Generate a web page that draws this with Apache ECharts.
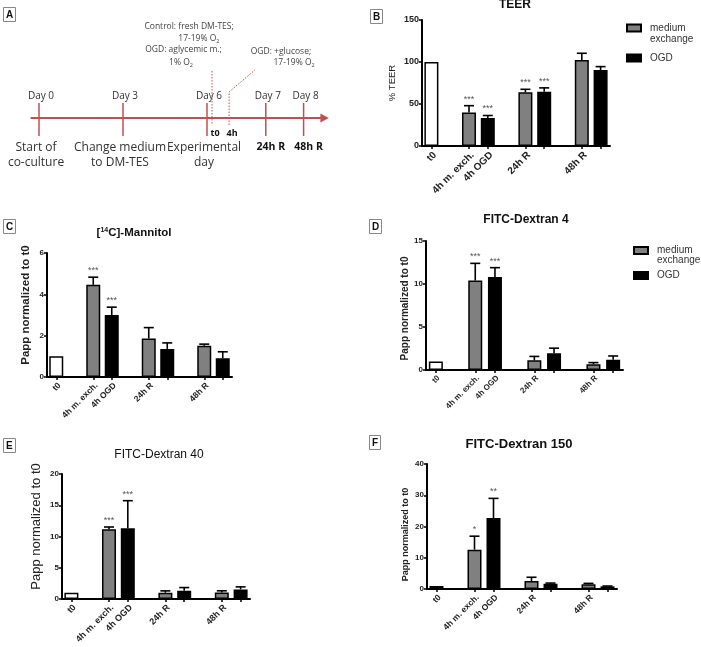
<!DOCTYPE html>
<html><head><meta charset="utf-8">
<script src="https://cdn.jsdelivr.net/npm/echarts@6/dist/echarts.min.js"></script>
<style>html,body{margin:0;padding:0;background:#fff}#c{width:701px;height:647px}</style>
</head><body><div id="c"></div><script>
// ---------- data ----------
const groupLabels = ['4h', '24h R', '48h R'];
const xTickLabels = ['t0', '4h m. exch.', '4h OGD', '24h R', '48h R'];
const seriesNames = ['medium exchange', 'OGD'];

// B: TEER
const teerT0 = 100;
const teerMedium = [40, 64, 102.4];
const teerMediumErr = [8, 3.5, 8];
const teerOGD = [33.3, 64.7, 90.5];
const teerOGDErr = [3, 4.5, 4];
const teerMediumStars = ['***', '***', ''];
const teerOGDStars = ['***', '***', ''];

// C: [14C]-Mannitol
const manT0 = 1;
const manMedium = [4.46, 1.86, 1.51];
const manMediumErr = [0.37, 0.53, 0.08];
const manOGD = [3.0, 1.36, 0.91];
const manOGDErr = [0.38, 0.29, 0.31];
const manMediumStars = ['***', '', ''];
const manOGDStars = ['***', '', ''];

// D: FITC-Dextran 4
const fd4T0 = 1;
const fd4Medium = [10.4, 1.13, 0.66];
const fd4MediumErr = [2.0, 0.45, 0.2];
const fd4OGD = [10.8, 1.94, 1.2];
const fd4OGDErr = [1.1, 0.6, 0.43];
const fd4MediumStars = ['***', '', ''];
const fd4OGDStars = ['***', '', ''];

// E: FITC-Dextran 40
const fd40T0 = 1;
const fd40Medium = [11.17, 1.0, 1.06];
const fd40MediumErr = [0.35, 0.3, 0.25];
const fd40OGD = [11.33, 1.33, 1.54];
const fd40OGDErr = [4.4, 0.5, 0.4];
const fd40MediumStars = ['***', '', ''];
const fd40OGDStars = ['***', '', ''];

// F: FITC-Dextran 150
const fd150T0 = 1;
const fd150Medium = [12.6, 2.56, 1.5];
const fd150MediumErr = [4.3, 1.2, 0.3];
const fd150OGD = [22.7, 1.7, 0.85];
const fd150OGDErr = [6.3, 0.2, 0.1];
const fd150MediumStars = ['*', '', ''];
const fd150OGDStars = ['**', '', ''];

// A: timeline schematic
const tlDays = ['Day 0', 'Day 3', 'Day 6', 'Day 7', 'Day 8'];
const tlDayAt = [0, 3, 6, 8.1, 9.45];
const tlBelow = ['Start of\nco-culture', 'Change medium\nto DM-TES', 'Experimental\nday', '24h R', '48h R'];
const tlBelowBold = [false, false, false, true, true];
const tlPoints = ['t0', '4h'];
const tlPointAt = [6.18, 6.79];
const tlNotes = ['Control: fresh DM-TES;', '17-19% O{s|2}', 'OGD: aglycemic m.;', '1% O{s|2}', 'OGD: +glucose;', '17-19% O{s|2}'];
const tlNoteAt = [5.36, 5.71, 5.16, 5.07, 8.64, 9.11];

// ---------- layout / style ----------
const FONT = '"Liberation Sans", Arial, sans-serif';
const AFONT = '"Open Sans", "Noto Sans", sans-serif';
const RED = '#c0504d';
const GRAY = '#808080';
const NSLOT = 10;
const slotIds = Array.from({length: NSLOT}, (_, i) => 's' + i);
const slotLabel = {0: xTickLabels[0], 2: xTickLabels[1], 3: xTickLabels[2], 5: xTickLabels[3], 8: xTickLabels[4]};
const barSlot = {0: 1, 2: 1, 3: 1, 5: 1, 6: 1, 8: 1, 9: 1};
const medSlot = g => 2 + 3 * g;
const ogdSlot = g => 3 + 3 * g;

const panels = [
  {grid: {left: 422, top: 20, width: 188, height: 126}, max: 150, interval: 50, name: '% TEER', nameGap: 25, nameSize: 9.5, nameWeight: 'normal', nameShift: 0,
   tick: 9, xl: 10, t0: teerT0, med: teerMedium, medErr: teerMediumErr, ogd: teerOGD, ogdErr: teerOGDErr, medStars: teerMediumStars, ogdStars: teerOGDStars},
  {grid: {left: 47, top: 253, width: 185, height: 124}, max: 6, interval: 2, name: 'Papp normalized to t0', nameGap: 15, nameSize: 11.5, nameWeight: 'bold', nameShift: 10,
   tick: 8, xl: 8.5, t0: manT0, med: manMedium, medErr: manMediumErr, ogd: manOGD, ogdErr: manOGDErr, medStars: manMediumStars, ogdStars: manOGDStars},
  {grid: {left: 426, top: 241, width: 197, height: 129}, max: 15, interval: 5, name: 'Papp normalized to t0', nameGap: 15, nameSize: 10, nameWeight: 'bold', nameShift: -3,
   tick: 8, xl: 8, t0: fd4T0, med: fd4Medium, medErr: fd4MediumErr, ogd: fd4OGD, ogdErr: fd4OGDErr, medStars: fd4MediumStars, ogdStars: fd4OGDStars},
  {grid: {left: 62, top: 474, width: 188, height: 125}, max: 20, interval: 5, name: 'Papp normalized to t0', nameGap: 19, nameSize: 13, nameWeight: 'normal', nameShift: 10,
   tick: 8, xl: 9, t0: fd40T0, med: fd40Medium, medErr: fd40MediumErr, ogd: fd40OGD, ogdErr: fd40OGDErr, medStars: fd40MediumStars, ogdStars: fd40OGDStars},
  {grid: {left: 427, top: 464, width: 190, height: 125}, max: 40, interval: 10, name: 'Papp normalized to t0', nameGap: 17, nameSize: 9, nameWeight: 'bold', nameShift: -8,
   tick: 8, xl: 8.5, t0: fd150T0, med: fd150Medium, medErr: fd150MediumErr, ogd: fd150OGD, ogdErr: fd150OGDErr, medStars: fd150MediumStars, ogdStars: fd150OGDStars}
];

const grids = [], xAxes = [], yAxes = [], series = [];

panels.forEach((p, i) => {
  grids.push(Object.assign({outerBoundsMode: 'none', containLabel: false}, p.grid));
  xAxes.push({
    type: 'category', gridIndex: i, data: slotIds, boundaryGap: true,
    axisLine: {show: true, lineStyle: {color: '#000', width: 2}},
    axisTick: {show: true, alignWithLabel: true, length: 3, interval: (idx) => !!barSlot[idx], lineStyle: {color: '#000', width: 1.5}},
    axisLabel: {interval: 0, rotate: 45, margin: 4, verticalAlign: 'top', fontSize: p.xl, fontWeight: 'bold', color: '#222', fontFamily: FONT,
      formatter: (v, idx) => slotLabel[idx] || ''},
    splitLine: {show: false}
  });
  const s = p.nameShift;
  yAxes.push({
    type: 'value', gridIndex: i, min: 0, max: p.max, interval: p.interval,
    axisLine: {show: true, lineStyle: {color: '#000', width: 2}},
    axisTick: {show: true, length: 3, lineStyle: {color: '#000', width: 1.5}},
    axisLabel: {fontSize: p.tick, fontWeight: 'bold', color: '#222', margin: 3, fontFamily: FONT},
    splitLine: {show: false},
    name: p.name, nameLocation: 'middle', nameRotate: 90, nameGap: p.nameGap,
    nameTextStyle: {fontSize: p.nameSize, fontWeight: p.nameWeight, color: '#222', fontFamily: FONT,
      padding: s >= 0 ? [0, 0, 0, 2 * s] : [0, -2 * s, 0, 0]}
  });
  const t0Data = Array(NSLOT).fill('-'); t0Data[0] = p.t0;
  const medData = Array(NSLOT).fill('-');
  const ogdData = Array(NSLOT).fill('-');
  const errItems = [];
  groupLabels.forEach((g, k) => {
    medData[medSlot(k)] = p.med[k];
    ogdData[ogdSlot(k)] = p.ogd[k];
    errItems.push({slot: medSlot(k), v: p.med[k], e: p.medErr[k], s: p.medStars[k]});
    errItems.push({slot: ogdSlot(k), v: p.ogd[k], e: p.ogdErr[k], s: p.ogdStars[k]});
  });
  const barCommon = {type: 'bar', xAxisIndex: i, yAxisIndex: i, barWidth: 14, barGap: '-100%', animation: false,
    emphasis: {disabled: true}};
  series.push(Object.assign({name: 't0', data: t0Data, itemStyle: {color: '#fff', borderColor: '#000', borderWidth: 1.5}}, barCommon));
  series.push(Object.assign({name: seriesNames[0], data: medData, itemStyle: {color: GRAY, borderColor: '#000', borderWidth: 1.5}}, barCommon));
  series.push(Object.assign({name: seriesNames[1], data: ogdData, itemStyle: {color: '#000', borderColor: '#000', borderWidth: 1.5}}, barCommon));
  series.push({
    type: 'custom', xAxisIndex: i, yAxisIndex: i, animation: false, z: 5, silent: true,
    data: errItems.map(d => [d.slot, d.v, d.e]),
    renderItem: (params, api) => {
      const d = errItems[params.dataIndex];
      const base = api.coord([d.slot, d.v]);
      const top = api.coord([d.slot, d.v + d.e]);
      const ch = [];
      if (d.e > 0) {
        ch.push({type: 'line', shape: {x1: base[0], y1: base[1], x2: top[0], y2: top[1]}, style: {stroke: '#000', lineWidth: 1.6}});
        ch.push({type: 'line', shape: {x1: top[0] - 5, y1: top[1], x2: top[0] + 5, y2: top[1]}, style: {stroke: '#000', lineWidth: 1.6}});
      }
      if (d.s) {
        ch.push({type: 'text', style: {text: d.s, x: top[0], y: top[1] - 2, align: 'center', verticalAlign: 'bottom',
          fill: '#555', font: '9px ' + FONT}});
      }
      return {type: 'group', children: ch};
    }
  });
});

// panel A grid (schematic)
const aIdx = panels.length;
grids.push({left: 11, top: 0, width: 336, height: 200, outerBoundsMode: 'none'});
xAxes.push({type: 'value', gridIndex: aIdx, min: -1, max: 11, show: false});
yAxes.push({type: 'value', gridIndex: aIdx, min: 0, max: 200, inverse: true, show: false});
const noteRows = [27, 39, 50, 63, 52, 63];
series.push({
  type: 'custom', xAxisIndex: aIdx, yAxisIndex: aIdx, animation: false, silent: true,
  data: [[0, 0]],
  renderItem: (params, api) => {
    const X = v => api.coord([v, 0])[0];
    const Y = v => api.coord([0, v])[1];
    const ch = [];
    const yL = 118;
    ch.push({type: 'line', shape: {x1: X(-0.3), y1: Y(yL), x2: X(10.1), y2: Y(yL)}, style: {stroke: RED, lineWidth: 2}});
    ch.push({type: 'polygon', shape: {points: [[X(10.05), Y(yL - 4.5)], [X(10.35), Y(yL)], [X(10.05), Y(yL + 4.5)]]}, style: {fill: RED}});
    tlDays.forEach((d, k) => {
      const x = X(tlDayAt[k]);
      ch.push({type: 'line', shape: {x1: x, y1: Y(103), x2: x, y2: Y(136)}, style: {stroke: RED, lineWidth: 1.5}});
      ch.push({type: 'text', style: {text: d, x: x + 2, y: Y(96), align: 'center', verticalAlign: 'middle', fill: '#333', font: '10px ' + AFONT}});
      if (tlBelowBold[k]) {
        ch.push({type: 'text', style: {text: tlBelow[k], x: x + 5, y: Y(147), align: 'center', verticalAlign: 'middle', fill: '#111', font: 'bold 10.5px ' + AFONT}});
      } else {
        ch.push({type: 'text', style: {text: tlBelow[k], x: x - 3, y: Y(140), align: 'center', verticalAlign: 'top', fill: '#333', font: '12px ' + AFONT, lineHeight: 15}});
      }
    });
    const xt0 = X(tlPointAt[0]), x4 = X(tlPointAt[1]);
    ch.push({type: 'line', shape: {x1: xt0, y1: Y(71), x2: xt0, y2: Y(125)}, style: {stroke: RED, lineWidth: 1, lineDash: [1.5, 1.5]}});
    ch.push({type: 'polyline', shape: {points: [[x4, Y(125)], [x4, Y(92)], [X(7.71), Y(70)]]}, style: {stroke: RED, lineWidth: 1, lineDash: [1.5, 1.5], fill: null}});
    tlPoints.forEach((t, k) => {
      ch.push({type: 'text', style: {text: t, x: X(tlPointAt[k]) + 3, y: Y(133), align: 'center', verticalAlign: 'middle', fill: '#111', font: 'bold 9px ' + AFONT}});
    });
    tlNotes.forEach((t, k) => {
      ch.push({type: 'text', style: {text: t, x: X(tlNoteAt[k]), y: Y(noteRows[k]), align: 'center', verticalAlign: 'middle', fill: '#444', font: '8.5px ' + AFONT,
        rich: {s: {fontSize: 5.5, fontFamily: AFONT, fill: '#444', padding: [5, 0, 0, 0]}}}});
    });
    return {type: 'group', children: ch};
  }
});

// titles
const boxStyle = {borderColor: '#888', borderWidth: 1, padding: [3, 3, 2, 3], textStyle: {fontSize: 10, fontWeight: 'bold', color: '#111', fontFamily: FONT}};
const letter = (t, l, tp) => Object.assign({text: t, left: l, top: tp}, boxStyle);
const chartTitle = (t, cx, tp, size, weight) => ({text: t, left: cx, top: tp, textAlign: 'center', padding: 0,
  textStyle: {fontSize: size, fontWeight: weight, color: '#111', fontFamily: FONT,
    rich: {sup: {fontSize: 7, fontWeight: 'bold', fontFamily: FONT, color: '#111', padding: [0, 0, 5, 0]}}}});

const titles = [
  letter('A', 3, 7), letter('B', 370, 9), letter('C', 3, 219), letter('D', 369, 219), letter('E', 3, 438), letter('F', 369, 435),
  chartTitle('TEER', 515, -1, 12, 'bold'),
  chartTitle('[{sup|14}C]-Mannitol', 134, 227, 11.5, 'bold'),
  chartTitle('FITC-Dextran 4', 526, 214, 12, 'bold'),
  chartTitle('FITC-Dextran 40', 159, 449, 12, 'normal'),
  chartTitle('FITC-Dextran 150', 519, 438, 13, 'bold')
];

const legendCommon = {orient: 'vertical', itemWidth: 14, itemHeight: 7, padding: 0, selectedMode: false,
  icon: 'rect', data: seriesNames};
const legends = [
  Object.assign({left: 626, top: 10.75, itemGap: 7,
    formatter: n => n === seriesNames[0] ? ' \nmedium\nexchange' : n,
    textStyle: {fontSize: 10, lineHeight: 11.5, color: '#333', fontFamily: FONT, padding: [0, 0, 0, 4]}}, legendCommon),
  Object.assign({left: 633, top: 235.5, itemGap: 5,
    formatter: n => n === seriesNames[0] ? ' \nmedium\nexchange' : n,
    textStyle: {fontSize: 10, lineHeight: 10, color: '#333', fontFamily: FONT, padding: [0, 0, 0, 4]}}, legendCommon)
];

const chart = echarts.init(document.getElementById('c'), null, {renderer: 'canvas', width: 701, height: 647});
chart.setOption({
  backgroundColor: '#fff',
  animation: false,
  title: titles,
  legend: legends,
  grid: grids,
  xAxis: xAxes,
  yAxis: yAxes,
  series: series
});
</script></body></html>
